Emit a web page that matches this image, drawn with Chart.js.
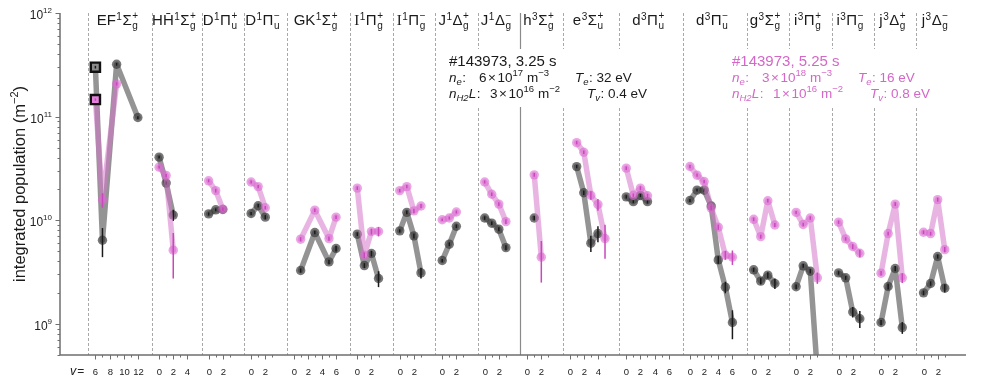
<!DOCTYPE html>
<html><head><meta charset="utf-8">
<script src="https://cdn.jsdelivr.net/npm/chart.js@4/dist/chart.umd.min.js"></script>
<style>html,body{margin:0;padding:0;background:#fff}canvas{display:block}</style>
</head><body>
<canvas id="c" width="981" height="383"></canvas>
<script>
// ---------- data ----------
const bandLabels = [
 ['EF','1','Σ','g','+'], ['HH\u0304','1','Σ','g','+'], ['D','1','Π','u','+'], ['D','1','Π','u','−'],
 ['GK','1','Σ','g','+'], ['I','1','Π','g','+'], ['I','1','Π','g','−'], ['J','1','Δ','g','+'], ['J','1','Δ','g','−'],
 ['h','3','Σ','g','+'], ['e','3','Σ','u','+'], ['d','3','Π','u','+'], ['d','3','Π','u','−'],
 ['g','3','Σ','g','+'], ['i','3','Π','g','+'], ['i','3','Π','g','−'], ['j','3','Δ','g','+'], ['j','3','Δ','g','−']
];
const bandVMin = [5,-1,-1,-1,-1,-1,-1,-1,-1,-1,-1,-1,-1,-1,-1,-1,-1,-1];
const bandVMax = [14,6,5,5,8,5,5,5,5,5,7,8,8,5,5,5,5,6];
const tickVMin = [6,0,0,0,0,0,0,0,0,0,0,0,0,0,0,0,0,0];
const tickVMax = [12,4,3,3,6,3,3,3,3,3,5,6,6,3,3,3,3,3];

const vGray = [[6,7,9,12],[0,1,2],[0,1,2],[0,1,2],[1,3,5,6],[0,1,2,3],[0,1,2,3],[0,1,2],[0,1,2,3],[1],
 [1,2,3,4],[0,1,2,3],[0,1,2,3,4,5,6],[0,1,2,3],[0,1,2,3],[0,1,2,3],[0,1,2,3],[0,1,2,3]];
const popGray = [[3.0e11,6.4e9,3.2e11,9.8e10],[4.06e10,2.28e10,1.12e10],[1.15e10,1.26e10,1.27e10],[1.16e10,1.38e10,1.07e10],
 [3.27e9,7.6e9,3.96e9,5.33e9],[7.33e9,3.65e9,4.77e9,2.74e9],[7.89e9,1.19e10,7.06e9,3.1e9],[4.08e9,5.87e9,8.75e9],
 [1.05e10,9.36e9,8.19e9,5.44e9],[1.05e10],[3.29e10,1.84e10,6.0e9,7.43e9],[1.68e10,1.51e10,1.73e10,1.51e10],
 [1.55e10,1.95e10,1.95e10,1.37e10,4.14e9,2.26e9,1.03e9],[3.32e9,2.58e9,2.95e9,2.45e9],[2.28e9,3.63e9,3.22e9,3.4e8],
 [3.1e9,2.78e9,1.30e9,1.12e9],[1.03e9,2.29e9,3.42e9,9.2e8],[1.99e9,2.45e9,4.46e9,2.21e9]];
const errGray = [[9e9,2.0e9,1.0e10,3e9],[1.2e9,0.8e9,1.4e9],[0.4e9,0.4e9,0.4e9],[0.4e9,0.5e9,0.5e9],
 [0.15e9,0.3e9,0.2e9,0.35e9],[0.3e9,0.2e9,0.3e9,0.48e9],[0.3e9,0.5e9,0.4e9,0.37e9],[0.15e9,0.25e9,0.35e9],
 [0.4e9,0.35e9,0.35e9,0.3e9],[0.5e9],[1.2e9,0.9e9,1.07e9,1.3e9],[0.6e9,0.5e9,0.6e9,0.6e9],
 [0.5e9,0.6e9,0.7e9,0.6e9,0.35e9,0.29e9,0.32e9],[0.15e9,0.18e9,0.2e9,0.28e9],[0.12e9,0.15e9,0.15e9,0.05e9],
 [0.12e9,0.12e9,0.15e9,0.21e9],[0.06e9,0.15e9,0.2e9,0.12e9],[0.1e9,0.12e9,0.2e9,0.2e9]];

const vPink = [[6,7,9],[0,1,2],[0,1,2],[0,1,2],[1,3,5,6],[0,1,2,3],[0,1,2,3],[0,1,2],[0,1,2,3],[1,2],
 [1,2,3,4,5],[0,1,2,3],[0,1,2,3,4,5,6],[0,1,2,3],[0,1,2,3],[0,1,2,3],[0,1,2,3],[0,1,2,3]];
const popPink = [[1.46e11,1.57e10,2.07e11],[3.25e10,2.70e10,5.14e9],[2.40e10,1.93e10,1.28e10],[2.34e10,2.11e10,1.32e10],
 [6.56e9,1.25e10,6.65e9,1.07e10],[2.04e10,4.6e9,7.78e9,7.78e9],[1.93e10,2.11e10,1.23e10,1.37e10],[1.01e10,1.05e10,1.2e10],
 [2.34e10,1.78e10,1.43e10,9.7e9],[2.74e10,4.4e9],[5.6e10,4.53e10,1.74e10,1.42e10,6.65e9],[3.18e10,1.74e10,2.04e10,1.72e10],
 [3.3e10,2.72e10,2.36e10,1.31e10,8.57e9,4.6e9,4.4e9],[1.02e10,6.95e9,1.54e10,9.0e9],[1.19e10,9.1e9,1.05e10,2.78e9],
 [9.57e9,6.6e9,5.57e9,4.8e9],[3.08e9,7.43e9,1.43e10,2.78e9],[7.66e9,7.43e9,1.58e10,5.2e9]];
const errPink = [[4e9,2.5e9,7e9],[1.0e9,1.0e9,2.4e9],[0.8e9,0.8e9,0.5e9],[0.8e9,0.8e9,0.5e9],
 [0.3e9,0.5e9,0.3e9,0.4e9],[0.8e9,0.3e9,0.5e9,0.8e9],[0.7e9,0.8e9,0.6e9,0.6e9],[0.3e9,0.35e9,0.4e9],
 [0.8e9,0.7e9,0.6e9,0.5e9],[1.2e9,1.9e9],[2e9,1.8e9,1.6e9,1.85e9,2.4e9],[1.2e9,0.7e9,0.9e9,0.8e9],
 [1.2e9,1.0e9,0.9e9,0.6e9,0.5e9,0.45e9,0.7e9],[0.4e9,0.3e9,0.6e9,0.4e9],[0.4e9,0.35e9,0.4e9,0.35e9],
 [0.35e9,0.25e9,0.3e9,0.4e9],[0.15e9,0.3e9,0.6e9,0.3e9],[0.3e9,0.3e9,0.7e9,0.3e9]];
const refLevel = [0, 6]; // band index & v of the reference (square) points

const yMajorTicks = [1e9, 1e10, 1e11, 1e12];
const shotTitles = ['#143973, 3.25 s', '#143973, 5.25 s'];
const shotNe = [['6','17'], ['3','18']];
const shotNL = [['3','16'], ['1','16']];
const shotTe = ['32 eV', '16 eV'];
const shotTv = ['0.4 eV', '0.8 eV'];

// ---------- derived ----------
const bandStart = [];
{ let s = 0; for (let b = 0; b < bandVMin.length; b++) { bandStart.push(s); s += bandVMax[b] - bandVMin[b]; } bandStart.push(s); }
const X_MIN = -4, X_MAX = bandStart[bandStart.length - 1];
const gx = (b, v) => bandStart[b] + v - bandVMin[b];

function buildPoints(vs, pops, errs) {
  const pts = [];
  vs.forEach((arr, b) => {
    arr.forEach((v, i) => pts.push({x: gx(b, v), y: pops[b][i], err: errs[b][i], band: b, v: v}));
    pts.push({x: bandStart[b + 1], y: null});
  });
  return pts;
}
const grayPts = buildPoints(vGray, popGray, errGray);
const pinkPts = buildPoints(vPink, popPink, errPink);

const FONT = '"Liberation Sans", Arial, sans-serif';
const fnt = (s, st) => (st ? st + ' ' : '') + s + 'px ' + FONT;
const isRef = c => c.raw && c.raw.band === refLevel[0] && c.raw.v === refLevel[1];

function drawSegs(ctx, x, y, segs, color) {
  ctx.fillStyle = color; ctx.textAlign = 'left'; ctx.textBaseline = 'alphabetic';
  for (const s of segs) {
    x += (s.gl || 0);
    ctx.font = s.font || fnt(s.size, s.it ? 'italic' : '');
    ctx.fillText(s.t, x, y + (s.dy || 0));
    x += ctx.measureText(s.t).width + (s.gr || 0);
  }
  return x;
}

const AX = '#6f6f6f';
const framePlugin = {
  id: 'frame',
  beforeDatasetsDraw(chart) {
    const {ctx, chartArea: a, scales: {x: xs}} = chart;
    ctx.save();
    for (let b = 0; b < bandLabels.length; b++) {
      const px = Math.round(xs.getPixelForValue(bandStart[b])) + 0.5;
      const solid = b > 0 && bandLabels[b][1] === '3' && bandLabels[b - 1][1] === '1';
      ctx.beginPath();
      ctx.strokeStyle = solid ? '#8a8a8a' : '#a8a8a8';
      ctx.lineWidth = solid ? 1.2 : 1;
      ctx.setLineDash(solid ? [] : [3, 2]);
      ctx.moveTo(px, a.top); ctx.lineTo(px, a.bottom); ctx.stroke();
    }
    ctx.setLineDash([]);
    ctx.fillStyle = '#fff';
    ctx.fillRect(443, 49, 212, 58);
    ctx.fillRect(727, 49, 213, 58);
    ctx.restore();
  },
  afterDatasetDraw(chart, args) {
    const {ctx, chartArea: a, scales: {x: xs, y: ys}} = chart;
    const ds = chart.data.datasets[args.index];
    ctx.save();
    ctx.beginPath(); ctx.rect(a.left, a.top, a.right - a.left, a.bottom - a.top); ctx.clip();
    ctx.strokeStyle = ds.errColor; ctx.lineWidth = 1.5;
    for (const p of ds.data) {
      if (p.y == null) continue;
      const px = xs.getPixelForValue(p.x);
      const y1 = ys.getPixelForValue(p.y + p.err);
      const y2 = ys.getPixelForValue(Math.max(p.y - p.err, 1e7));
      ctx.beginPath(); ctx.moveTo(px, y1); ctx.lineTo(px, y2); ctx.stroke();
    }
    ctx.restore();
  },
  afterDraw(chart) {
    const {ctx, chartArea: a, scales: {x: xs, y: ys}} = chart;
    ctx.save();
    ctx.strokeStyle = AX; ctx.lineWidth = 1.5;
    ctx.beginPath(); ctx.moveTo(a.left, a.top); ctx.lineTo(a.left, a.bottom); ctx.lineTo(a.right, a.bottom); ctx.stroke();
    ctx.lineWidth = 1;
    for (let n = 8; n <= 11; n++) for (let k = 2; k <= 9; k++) {
      const val = k * Math.pow(10, n);
      if (val < ys.min || val > ys.max) continue;
      const py = Math.round(ys.getPixelForValue(val)) + 0.5;
      ctx.beginPath(); ctx.moveTo(a.left - 2.5, py); ctx.lineTo(a.left, py); ctx.stroke();
    }
    for (const val of yMajorTicks) {
      const py = Math.round(ys.getPixelForValue(val)) + 0.5;
      ctx.beginPath(); ctx.moveTo(a.left - 4.5, py); ctx.lineTo(a.left, py); ctx.stroke();
      const e = String(Math.round(Math.log10(val)));
      ctx.font = fnt(8); const we = ctx.measureText(e).width;
      ctx.font = fnt(12); const wb = ctx.measureText('10').width;
      const x0 = 52 - we - wb;
      drawSegs(ctx, x0, py + 5, [{t: '10', size: 12}, {t: e, size: 8, dy: -6}], '#222');
    }
    for (let b = 0; b < bandLabels.length; b++) {
      for (let v = tickVMin[b]; v <= tickVMax[b]; v++) {
        const px = Math.round(xs.getPixelForValue(gx(b, v))) + 0.5;
        const major = v % 2 === 0;
        ctx.beginPath(); ctx.moveTo(px, a.bottom); ctx.lineTo(px, a.bottom + (major ? 4.5 : 2.5)); ctx.stroke();
        if (major) {
          ctx.font = fnt(9.5); ctx.fillStyle = '#222'; ctx.textAlign = 'center'; ctx.textBaseline = 'alphabetic';
          ctx.fillText(String(v), px, a.bottom + 19.5);
        }
      }
    }
    drawSegs(ctx, 70, a.bottom + 19.5, [{t: 'v', size: 12.5, it: true}, {t: '=', size: 12, gl: 1}], '#222');
    for (let b = 0; b < bandLabels.length; b++) {
      const [base, mult, sym, sub, sup] = bandLabels[b];
      const cx = xs.getPixelForValue((gx(b, tickVMin[b]) + gx(b, tickVMax[b])) / 2) + 1;
      const baseFont = base === 'I' ? '15px "Liberation Serif", serif' : fnt(15);
      ctx.font = baseFont; const wB = ctx.measureText(base).width;
      ctx.font = fnt(10); const wM = ctx.measureText(mult).width;
      ctx.font = fnt(15); const wS = ctx.measureText(sym).width;
      ctx.font = fnt(10); const wSS = Math.max(ctx.measureText(sub).width, ctx.measureText(sup).width);
      let x = cx - (wB + wM + wS + wSS + 2) / 2;
      const yb = 25;
      x = drawSegs(ctx, x, yb, [{t: base, font: baseFont}, {t: mult, size: 10, dy: -5, gl: 0.5}, {t: sym, size: 15, gl: 0.5}], '#1a1a1a');
      drawSegs(ctx, x + 0.5, yb + 3.5, [{t: sub, size: 10}], '#1a1a1a');
      drawSegs(ctx, x + 0.5, yb - 6, [{t: sup, size: 10}], '#1a1a1a');
    }
    ctx.save();
    ctx.translate(19, (a.top + a.bottom) / 2);
    ctx.rotate(-Math.PI / 2);
    const tsegs = [{t: 'integrated population (m', size: 16.5}, {t: '−2', size: 11, dy: -7}, {t: ')', size: 16.5}];
    let tw = 0; for (const s of tsegs) { ctx.font = fnt(s.size); tw += ctx.measureText(s.t).width; }
    drawSegs(ctx, -tw / 2, 6, tsegs, '#1a1a1a');
    ctx.restore();
    const ann = [[449, '#1a1a1a'], [732, '#d467c8']];
    for (let i = 0; i < 2; i++) {
      const [x0, col] = ann[i];
      drawSegs(ctx, x0, 66, [{t: shotTitles[i], size: 15}], col);
      drawSegs(ctx, x0, 82, [{t: 'n', size: 13.5, it: true}, {t: 'e', size: 9.5, it: true, dy: 3}, {t: ':', size: 13.5, gl: 0.5}], col);
      drawSegs(ctx, x0 + 30, 82, [{t: shotNe[i][0], size: 13.5}, {t: '×', size: 13.5, gl: 1.5, gr: 1.5}, {t: '10', size: 13.5},
        {t: shotNe[i][1], size: 9.5, dy: -6}, {t: 'm', size: 13.5, gl: 4}, {t: '−3', size: 9.5, dy: -6}], col);
      drawSegs(ctx, x0 + 126, 82, [{t: 'T', size: 13.5, it: true}, {t: 'e', size: 9.5, it: true, dy: 3}, {t: ': ' + shotTe[i], size: 13.5, gl: 0.5}], col);
      drawSegs(ctx, x0, 98, [{t: 'n', size: 13.5, it: true}, {t: 'H2', size: 9.5, it: true, dy: 3}, {t: 'L', size: 13.5, it: true}, {t: ':', size: 13.5, gl: 0.5}], col);
      drawSegs(ctx, x0 + 41, 98, [{t: shotNL[i][0], size: 13.5}, {t: '×', size: 13.5, gl: 1.5, gr: 1.5}, {t: '10', size: 13.5},
        {t: shotNL[i][1], size: 9.5, dy: -6}, {t: 'm', size: 13.5, gl: 4}, {t: '−2', size: 9.5, dy: -6}], col);
      drawSegs(ctx, x0 + 138, 98, [{t: 'T', size: 13.5, it: true}, {t: 'v', size: 9.5, it: true, dy: 3}, {t: ': ' + shotTv[i], size: 13.5, gl: 0.5}], col);
    }
    ctx.restore();
  }
};

new Chart(document.getElementById('c'), {
  type: 'line',
  data: {
    datasets: [
      { label: shotTitles[1], data: pinkPts, order: 0, clip: 0,
        borderColor: 'rgba(214,120,204,0.55)', borderWidth: 5.5, borderJoinStyle: 'round', borderCapStyle: 'round',
        pointStyle: c => isRef(c) ? 'rect' : 'circle',
        pointRadius: c => isRef(c) ? 6.5 : 4.7,
        pointBackgroundColor: c => isRef(c) ? 'rgb(226,130,218)' : 'rgba(220,105,210,0.6)',
        pointBorderColor: c => isRef(c) ? '#111' : 'rgba(0,0,0,0)',
        pointBorderWidth: c => isRef(c) ? 2.4 : 0,
        errColor: '#c948bb' },
      { label: shotTitles[0], data: grayPts, order: 1, clip: 0,
        borderColor: 'rgba(112,112,112,0.75)', borderWidth: 5.5, borderJoinStyle: 'round', borderCapStyle: 'round',
        pointStyle: c => isRef(c) ? 'rect' : 'circle',
        pointRadius: c => isRef(c) ? 6.5 : 4.7,
        pointBackgroundColor: c => isRef(c) ? 'rgb(140,140,140)' : 'rgba(55,55,55,0.68)',
        pointBorderColor: c => isRef(c) ? '#111' : 'rgba(0,0,0,0)',
        pointBorderWidth: c => isRef(c) ? 2.4 : 0,
        errColor: '#1a1a1a' }
    ]
  },
  options: {
    responsive: false, devicePixelRatio: 1, animation: false, events: [],
    spanGaps: false,
    layout: {padding: {left: 60, right: 15, top: 13, bottom: 28}},
    scales: {
      x: {type: 'linear', display: false, min: X_MIN, max: X_MAX},
      y: {type: 'logarithmic', display: false, min: 5e8, max: 1e12}
    },
    plugins: {legend: {display: false}, tooltip: {enabled: false}}
  },
  plugins: [framePlugin]
});
</script>
</body></html>
